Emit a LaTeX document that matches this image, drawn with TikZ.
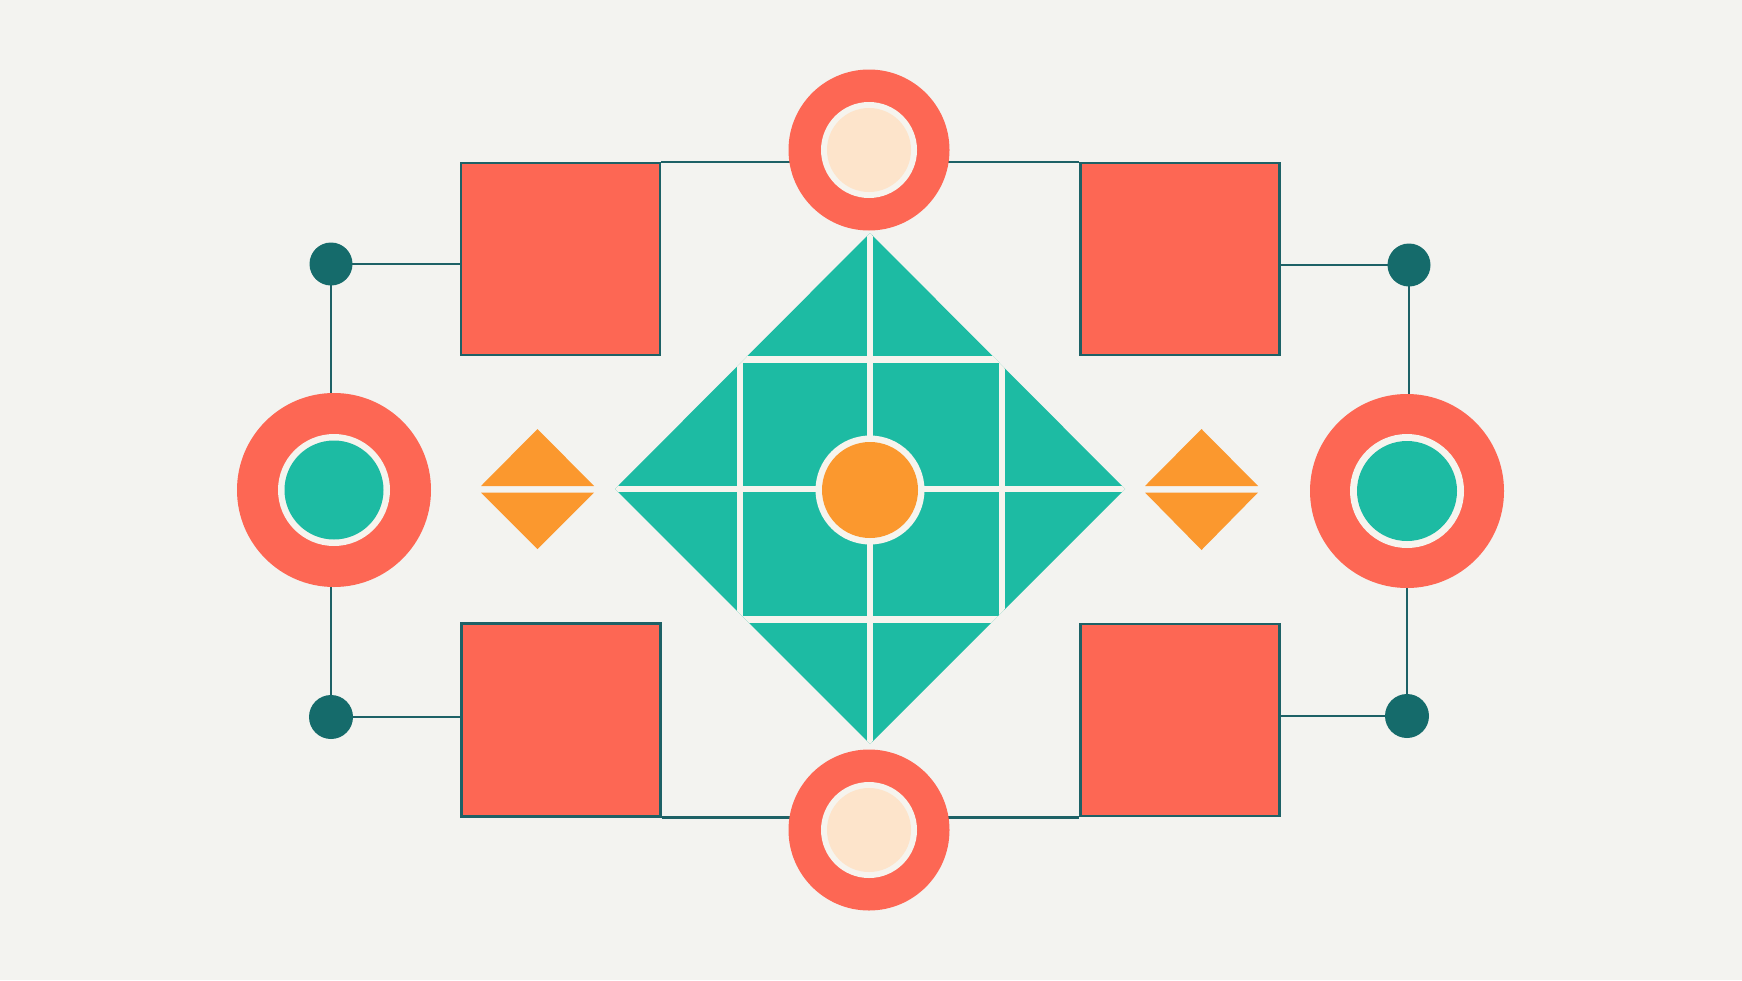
\documentclass[tikz,border=0pt]{standalone}
\usetikzlibrary{calc}
\definecolor{bgc}{HTML}{F3F3F0}
\definecolor{coral}{HTML}{FD6754}
\definecolor{tealA}{HTML}{1DBBA3}
\definecolor{dteal}{HTML}{156B6B}
\definecolor{lineteal}{HTML}{1D6166}
\definecolor{orng}{HTML}{FB982E}
\definecolor{cream}{HTML}{FDE4CB}
\definecolor{gapw}{HTML}{F6F4EE}
\pgfdeclarelayer{back}
\pgfdeclarelayer{links}
\pgfsetlayers{back,links,main}
\begin{document}
\begin{tikzpicture}[x=1pt,y=-1pt,
  box/.style={rectangle, fill=coral, draw=lineteal, line width=2.4pt, minimum width=199pt, minimum height=192pt, inner sep=0pt},
  disc/.style={circle, fill=#1, inner sep=0pt, draw=none},
  conn/.style={draw=lineteal, line width=2.6pt},
  tdot/.style={circle, fill=dteal, inner sep=0pt, minimum size=43pt}]
\begin{pgfonlayer}{back}
\useasboundingbox (0,0) rectangle (1742,980);
\fill[bgc] (0,0) rectangle (1742,980);
\end{pgfonlayer}

% rectangles
\node[box] (rtl) at (560.5,259) {};
\node[box] (rtr) at (1180,259) {};
\node[box, minimum height=193pt] (rbl) at (561,720) {};
\node[box] (rbr) at (1180,720) {};

% top and bottom rings
\node[disc=coral, minimum size=161pt] (ct) at (869,150) {};
\node[disc=gapw, minimum size=96pt] (cti) at (ct) {};
\node[disc=cream, minimum size=84pt] (ctc) at (ct) {};
\node[disc=coral, minimum size=161pt] (cb) at (869,830) {};
\node[disc=gapw, minimum size=96pt] (cbi) at (cb) {};
\node[disc=cream, minimum size=84pt] (cbc) at (cb) {};

% left and right rings
\node[disc=coral, minimum size=194pt] (cl) at (334,490) {};
\node[disc=gapw, minimum size=112pt] (cli) at (cl) {};
\node[disc=tealA, minimum size=99pt] (clc) at (cl) {};
\node[disc=coral, minimum size=194pt] (cr) at (1407,491) {};
\node[disc=gapw, minimum size=114pt] (cri) at (cr) {};
\node[disc=tealA, minimum size=100pt] (crc) at (cr) {};

% dots
\node[tdot] (dtl) at (331,264) {};
\node[tdot] (dtr) at (1409,265) {};
\node[tdot, minimum size=44pt] (dbl) at (331,717) {};
\node[tdot, minimum size=44pt] (dbr) at (1407,716) {};

% connectors
\begin{pgfonlayer}{links}
\draw[conn] (dtl.center) -- (dtl.center -| rtl.west);
\draw[conn] (dtl.center) -- (dtl.center |- cl.north);
\draw[conn] (cl.south -| dbl.center) -- (dbl.center);
\draw[conn] (dbl.center) -- (dbl.center -| rbl.west);
\draw[conn] (rtl.north east) -- (rtl.north east -| ct.center);
\draw[conn] (ct.center |- rtr.north west) -- (rtr.north west);
\draw[conn] (rbl.south east) -- (rbl.south east -| cb.center);
\draw[conn] (cb.center |- rbr.south west) -- (rbr.south west);
\draw[conn] (rtr.east |- dtr.center) -- (dtr.center);
\draw[conn] (dtr.center) -- (dtr.center |- cr.north);
\draw[conn] (cr.south -| dbr.center) -- (dbr.center);
\draw[conn] (dbr.center) -- (dbr.center -| rbr.east);
\end{pgfonlayer}

% central diamond
\coordinate (cc) at (870,489);
\fill[tealA] (870,233) -- (1125,489) -- (870,744) -- (615,489) -- cycle;
\begin{scope}
\clip (870,233) -- (1125,489) -- (870,744) -- (615,489) -- cycle;
\draw[gapw, line width=6.5pt] (740,359.5) rectangle (1002,619.5);
\draw[gapw, line width=6.5pt] (870,200) -- (870,780);
\draw[gapw, line width=6.5pt] (580,489) -- (1160,489);
\end{scope}
\node[disc=gapw, minimum size=109pt] (cw) at (870,490) {};
\node[disc=orng, minimum size=96pt] (co) at (cw) {};

% small orange diamonds
\fill[orng] (537.5,429) -- (594,486) -- (481,486) -- cycle;
\fill[orng] (481,492.5) -- (594,492.5) -- (537.5,549) -- cycle;
\fill[orng] (1201.5,429) -- (1258,486) -- (1145,486) -- cycle;
\fill[orng] (1145,492.5) -- (1258,492.5) -- (1201.5,550) -- cycle;
\end{tikzpicture}
\end{document}
